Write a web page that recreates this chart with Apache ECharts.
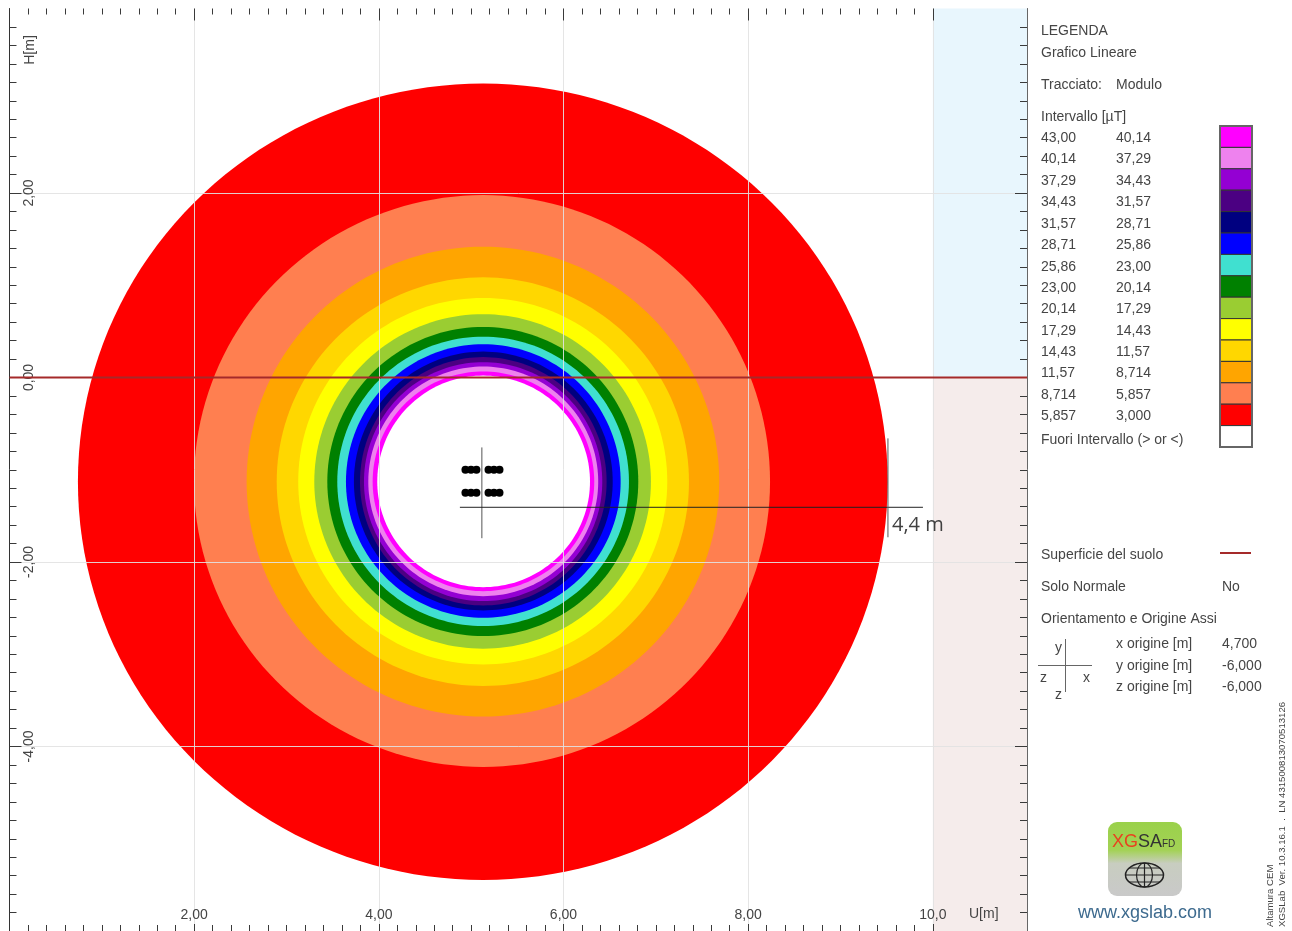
<!DOCTYPE html>
<html>
<head>
<meta charset="utf-8">
<title>XGSLab - Grafico Lineare</title>
<script src="https://cdn.jsdelivr.net/npm/echarts@6/dist/echarts.min.js"></script>
<style>
  html, body { margin: 0; padding: 0; background: #fff; }
  #chart { width: 1292px; height: 931px; }
</style>
</head>
<body>
<div id="chart"></div>
<script>
// bande del legenda, dall'alto in basso (anello interno -> esterno)
const rangeFrom = ['43,00', '40,14', '37,29', '34,43', '31,57', '28,71', '25,86', '23,00', '20,14', '17,29', '14,43', '11,57', '8,714', '5,857']
const rangeTo = ['40,14', '37,29', '34,43', '31,57', '28,71', '25,86', '23,00', '20,14', '17,29', '14,43', '11,57', '8,714', '5,857', '3,000']
const bandColors = ['#ff00ff', '#ee82ee', '#9400d3', '#4b0082', '#000080', '#0000ff', '#40e0d0', '#008000', '#9acd32', '#ffff00', '#ffd700', '#ffa500', '#ff7f50', '#ff0000']

// raggio esterno di ogni banda [m] letto verso est, nord, ovest, sud
const radiusE = [1.203, 1.246, 1.290, 1.337, 1.403, 1.489, 1.579, 1.680, 1.817, 1.994, 2.229, 2.557, 3.107, 4.381]
const radiusN = [1.194, 1.248, 1.295, 1.350, 1.410, 1.490, 1.572, 1.677, 1.815, 1.991, 2.215, 2.547, 3.106, 4.315]
const radiusW = [1.197, 1.244, 1.291, 1.334, 1.400, 1.486, 1.580, 1.688, 1.829, 2.003, 2.236, 2.562, 3.132, 4.389]
const radiusS = [1.187, 1.241, 1.295, 1.342, 1.396, 1.475, 1.566, 1.674, 1.811, 1.981, 2.215, 2.547, 3.092, 4.318]
const holeRadius = [1.157, 1.150, 1.147, 1.144] // E N W S, zona fuori intervallo
const ringCenter = [5.130, -1.129]

// conduttori
const conductorU = [4.938, 4.998, 5.057, 5.188, 5.247, 5.307]
const conductorV = [-1.0, -1.25]

// quote disegnate sopra il grafico
const dimensionLines = [
  [[5.116, -0.758], [5.116, -1.742]],
  [[4.878, -1.407], [9.893, -1.407]],
  [[9.514, -0.660], [9.514, -1.732]]
]

const uTicks = [2, 4, 6, 8, 10]
const uLabels = ['2,00', '4,00', '6,00', '8,00', '10,0']
const vTicks = [-4, -2, 0, 2]
const vLabels = ['-4,00', '-2,00', '0,00', '2,00']

const uRange = [0, 11.02]
const vRange = [-6, 4]
const uTickRange = [0, 10] // le tacche orizzontali si fermano a 10 m
const groundLevel = 0

// tacche minori ogni 0,2 m
function minorTicks(range) {
  const out = []
  for (let i = Math.round(range[0] * 5) + 1; i < range[1] * 5; i++) {
    if (i % 10 !== 0) out.push(i / 5)
  }
  return out
}

function tickAxis(range, position, values, len) {
  return {
    type: 'value',
    position,
    min: range[0],
    max: range[1],
    z: 5,
    axisLine: { show: false, onZero: false },
    axisTick: { show: true, inside: true, length: len, customValues: values, lineStyle: { color: '#3a3a3a', width: 1 } },
    axisLabel: { show: false },
    splitLine: { show: false }
  }
}

const gridLine = { show: true, showMinLine: true, showMaxLine: true, lineStyle: { color: 'rgba(226,226,226,0.9)', width: 1 } }

const mainU = tickAxis(uRange, 'bottom', uTicks, 7)
mainU.splitLine = gridLine
mainU.axisLabel = {
  show: true, inside: true, margin: 9, customValues: uTicks, color: '#444', fontSize: 14, fontFamily: 'Liberation Sans',
  formatter: v => uLabels[uTicks.indexOf(v)]
}

const mainV = tickAxis(vRange, 'left', vTicks, 12)
mainV.splitLine = gridLine
mainV.axisLine = { show: true, onZero: false, lineStyle: { color: '#333', width: 1 } }
mainV.axisLabel = {
  show: true, inside: true, rotate: 90, margin: 13, customValues: vTicks, color: '#444', fontSize: 14, fontFamily: 'Liberation Sans',
  formatter: v => vLabels[vTicks.indexOf(v)]
}

const rightV = tickAxis(vRange, 'right', vTicks, 12)
rightV.axisLine = { show: true, onZero: false, lineStyle: { color: '#666', width: 1 } }

// raggio in una direzione, raccordato tra le quattro letture
function radiusAt(r, angle) {
  const seg = angle / (Math.PI / 2)
  const i = Math.floor(seg) % 4
  const t = seg - Math.floor(seg)
  const k = (1 - Math.cos(t * Math.PI)) / 2
  return r[i] * (1 - k) + r[(i + 1) % 4] * k
}

function ringShape(params, api) {
  const r = [api.value(0), api.value(1), api.value(2), api.value(3)]
  const points = []
  for (let a = 0; a < 180; a++) {
    const angle = a / 180 * Math.PI * 2
    const rad = radiusAt(r, angle)
    points.push(api.coord([ringCenter[0] + rad * Math.cos(angle), ringCenter[1] + rad * Math.sin(angle)]))
  }
  return { type: 'polygon', shape: { points }, style: { fill: api.visual('color') } }
}

const ringData = bandColors.map((color, i) => ({
  value: [radiusE[i], radiusN[i], radiusW[i], radiusS[i]],
  itemStyle: { color }
})).reverse()
ringData.push({ value: holeRadius, itemStyle: { color: '#ffffff' } })

// fasce aria / suolo a destra del grafico
function regionShape(params, api) {
  const a = api.coord([api.value(0), api.value(1)])
  const b = api.coord([api.value(2), api.value(3)])
  return { type: 'rect', shape: { x: a[0], y: a[1], width: b[0] - a[0], height: b[1] - a[1] }, style: { fill: api.visual('color') } }
}

const conductorData = []
conductorV.forEach(v => conductorU.forEach(u => conductorData.push([u, v])))

const series = [
  {
    type: 'custom', coordinateSystem: 'cartesian2d', silent: true, z: 1, renderItem: regionShape,
    data: [
      { value: [10, vRange[1], uRange[1], groundLevel], itemStyle: { color: '#e8f6fd' } },
      { value: [10, groundLevel, uRange[1], vRange[0]], itemStyle: { color: '#f5eceb' } }
    ]
  },
  { type: 'custom', coordinateSystem: 'cartesian2d', silent: true, z: 2, renderItem: ringShape, data: ringData },
  {
    type: 'scatter', silent: true, z: 7, symbolSize: 8, itemStyle: { color: '#000', opacity: 1 }, data: conductorData
  },
  {
    type: 'line', silent: true, z: 6, symbol: 'none', lineStyle: { color: '#a52a2a', width: 2 },
    data: [[uRange[0], groundLevel], [uRange[1], groundLevel]]
  }
]
dimensionLines.forEach((line, i) => {
  series.push({
    type: 'line', silent: true, z: 8, symbol: 'none',
    lineStyle: { color: i === 1 ? '#222' : '#555', width: 1 }, data: line
  })
})

// legenda a destra
function txt(text, x, y, extra) {
  return {
    type: 'text', x, y: y + 1, z: 100,
    style: Object.assign({ text, fill: '#454545', font: '14px "Liberation Sans"', verticalAlign: 'middle' }, extra)
  }
}
function seg(x1, y1, x2, y2, color, width) {
  return { type: 'line', z: 100, shape: { x1, y1, x2, y2 }, style: { stroke: color, lineWidth: width } }
}

const rowY = [137, 158.5, 180, 201.5, 223, 244.5, 266, 287, 308.5, 330, 351.5, 372.5, 394, 415.5]
const swatchTop = 126
const swatchHeight = 21.4

const graphics = [
  txt('LEGENDA', 1041, 30),
  txt('Grafico Lineare', 1041, 52),
  txt('Tracciato:', 1041, 84),
  txt('Modulo', 1116, 84),
  txt('Intervallo [µT]', 1041, 116),
  txt('Fuori Intervallo (> or <)', 1041, 439),
  txt('Superficie del suolo', 1041, 554),
  seg(1220, 553, 1251, 553, '#a52a2a', 2),
  txt('Solo Normale', 1041, 586),
  txt('No', 1222, 586),
  txt('Orientamento e Origine Assi', 1041, 618),
  txt('x origine [m]', 1116, 643),
  txt('y origine [m]', 1116, 665),
  txt('z origine [m]', 1116, 686),
  txt('4,700', 1222, 643),
  txt('-6,000', 1222, 665),
  txt('-6,000', 1222, 686),
  seg(1038, 665.5, 1092, 665.5, '#666', 1),
  seg(1065.5, 639, 1065.5, 692, '#666', 1),
  txt('y', 1055, 647),
  txt('z', 1040, 677),
  txt('x', 1083, 677),
  txt('z', 1055, 694),

  // etichette assi e quota
  txt('U[m]', 969, 913),
  { type: 'text', x: 30, y: 50, z: 100, rotation: Math.PI / 2, style: { text: 'H[m]', fill: '#444', font: '14px "Liberation Sans"', align: 'center', verticalAlign: 'middle' } },
  txt('4,4 m', 892, 524, { font: '20px "Open Sans"', fill: '#404040' }),

  // logo
  {
    type: 'rect', z: 99, shape: { x: 1108, y: 822, width: 74, height: 74, r: 9 },
    style: {
      fill: { type: 'linear', x: 0, y: 0, x2: 0, y2: 1, colorStops: [
        { offset: 0, color: '#9ad14b' }, { offset: 0.38, color: '#a3d255' }, { offset: 0.56, color: '#c8cdc0' }, { offset: 1, color: '#c9c9c9' }
      ] }
    }
  },
  txt('XG', 1112, 841, { font: '18px "Liberation Sans"', fill: '#e8431f' }),
  txt('SA', 1138, 841, { font: '18px "Liberation Sans"', fill: '#333' }),
  txt('FD', 1162, 843, { font: '10px "Liberation Sans"', fill: '#333' }),
  { type: 'ellipse', z: 100, shape: { cx: 1144.5, cy: 875, rx: 19, ry: 12 }, style: { fill: 'none', stroke: '#222', lineWidth: 1.5 } },
  { type: 'ellipse', z: 100, shape: { cx: 1144.5, cy: 875, rx: 8, ry: 12 }, style: { fill: 'none', stroke: '#222', lineWidth: 1.2 } },
  seg(1125.5, 875, 1163.5, 875, '#222', 1.2),
  seg(1144.5, 863, 1144.5, 887, '#222', 1.2),
  seg(1129, 868, 1160, 868, '#222', 1),
  seg(1129, 882, 1160, 882, '#222', 1),
  txt('www.xgslab.com', 1078, 912, { font: '18px "Liberation Sans"', fill: '#3d6a8e' }),

  // versione, ruotata
  { type: 'text', x: 1270, y: 927, z: 100, rotation: Math.PI / 2, style: { text: 'Altamura CEM', fill: '#444', font: '9.6px "Liberation Sans"', verticalAlign: 'middle' } },
  { type: 'text', x: 1282, y: 927, z: 100, rotation: Math.PI / 2, style: { text: 'XGSLab  Ver. 10.3.16.1  .  LN 431500813070513126', fill: '#444', font: '9.6px "Liberation Sans"', verticalAlign: 'middle' } }
]

rangeFrom.forEach((from, i) => {
  graphics.push(txt(from, 1041, rowY[i]))
  graphics.push(txt(rangeTo[i], 1116, rowY[i]))
})
bandColors.concat(['#ffffff']).forEach((color, i) => {
  graphics.push({
    type: 'rect', z: 100,
    shape: { x: 1220, y: swatchTop + i * swatchHeight, width: 32, height: swatchHeight },
    style: { fill: color, stroke: '#333', lineWidth: 1 }
  })
})
graphics.push({
  type: 'rect', z: 101,
  shape: { x: 1220, y: swatchTop, width: 32, height: swatchHeight * 15 },
  style: { fill: 'none', stroke: '#666', lineWidth: 2 }
})

const chart = echarts.init(document.getElementById('chart'), null, { renderer: 'canvas' })
chart.setOption({
  animation: false,
  backgroundColor: '#fff',
  grid: { left: 9.5, right: 265, top: 8.5, bottom: -0.8 },
  xAxis: [
    mainU,
    tickAxis(uRange, 'bottom', minorTicks(uTickRange), 6),
    tickAxis(uRange, 'top', minorTicks(uTickRange), 6),
    tickAxis(uRange, 'top', uTicks, 12)
  ],
  yAxis: [
    mainV,
    tickAxis(vRange, 'left', minorTicks(vRange), 7),
    rightV,
    tickAxis(vRange, 'right', minorTicks(vRange), 7)
  ],
  series,
  graphic: { elements: graphics }
})
</script>
</body>
</html>
